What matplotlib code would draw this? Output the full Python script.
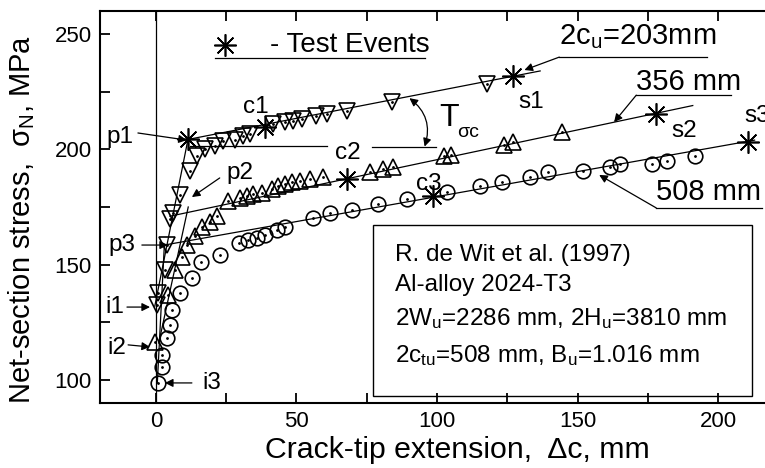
import matplotlib
matplotlib.use("Agg")
import matplotlib.pyplot as plt
from matplotlib.patches import Rectangle

plt.rcParams['font.family'] = ['Liberation Sans', 'DejaVu Sans']
plt.rcParams['mathtext.fontset'] = 'custom'
plt.rcParams['mathtext.rm'] = 'Liberation Sans'
plt.rcParams['mathtext.it'] = 'Liberation Sans:italic'

# 2c_u = 203 mm (down triangles)
dc_203 = [0.4, 0.7, 3.2, 3.9, 5.0, 6.0, 8.5, 12.0, 14.6, 17.4, 21.0, 24.0, 28.0, 31.0,
          33.5, 41.6, 46.0, 48.8, 52.0, 57.0, 61.0, 68.0, 84.0, 117.8]
sn_203 = [132.6, 137.8, 147.8, 158.7, 169.6, 172.6, 180.4, 190.4, 197.0, 200.0, 201.3, 203.5, 204.0, 205.6,
          206.5, 210.9, 211.7, 212.3, 213.0, 214.3, 215.2, 216.5, 220.4, 228.3]

# 2c_u = 356 mm (up triangles)
dc_356 = [-0.4, 4.3, 6.8, 9.2, 11.0, 13.9, 16.4, 19.2, 21.7, 25.6, 30.0, 32.4, 34.5, 37.7,
          41.3, 43.4, 45.9, 48.4, 51.2, 54.8, 59.4, 76.0, 80.8, 84.3, 102.5, 105.0, 124.0, 127.0, 144.5]
sn_356 = [116.5, 137.0, 147.7, 153.3, 158.5, 162.5, 166.3, 168.7, 170.9, 177.5, 179.0, 179.8, 180.6, 181.0,
          182.6, 183.9, 184.8, 185.7, 186.2, 187.0, 188.0, 190.0, 191.3, 192.4, 197.0, 197.6, 202.0, 203.0, 207.4]

# 2c_u = 508 mm (circles)
dc_508 = [0.7, 2.1, 2.3, 3.9, 5.0, 5.7, 8.5, 12.8, 16.2, 22.8, 29.5, 32.7, 35.9, 38.8, 43.0, 45.9,
          55.9, 61.9, 69.8, 79.0, 89.3, 103.6, 115.3, 123.0, 133.0, 139.5, 152.0, 161.6, 165.0,
          176.5, 181.9, 191.8]
sn_508 = [98.7, 105.6, 110.9, 118.3, 123.9, 130.4, 137.8, 144.3, 151.3, 154.0, 159.6, 160.5, 161.7, 163.0,
          165.2, 166.5, 170.4, 172.6, 173.9, 176.1, 178.3, 181.3, 183.9, 186.0, 187.8, 190.0, 190.4,
          192.2, 193.5, 193.5, 194.8, 197.0]

# test events (p1, c1, s1, c2, s2, c3, s3)
ev_dc = [11.4, 38.8, 127.0, 68.0, 178.0, 98.6, 210.7]
ev_sn = [204.3, 209.6, 231.7, 187.0, 215.2, 179.6, 203.0]

# straight fits: initial (i -> p) and stable growth (p -> s)
fit1_dc, fit1_sn = [-0.4, 11.4, 136.7], [132.0, 204.3, 234.0]
fit2a_dc, fit2a_sn = [1.0, 11.5], [116.0, 175.0]
fit2_dc, fit2_sn = [5.0, 191.0], [171.0, 219.0]
fit3a_dc, fit3a_sn = [0.5, 3.0], [98.7, 158.5]
fit3_dc, fit3_sn = [3.0, 213.0], [158.5, 204.0]

fig = plt.figure(figsize=(7.65, 4.68), dpi=100)
ax = fig.add_axes([0.1307, 0.1389, 0.8693, 0.8376])
ax.set_xlim(-19.9, 216.7)
ax.set_ylim(90.0, 260.0)

lw = 0.9
ax.axvline(0, color='black', lw=lw)
for xs, ys in [(fit1_dc, fit1_sn), (fit2a_dc, fit2a_sn), (fit2_dc, fit2_sn),
               (fit3a_dc, fit3a_sn), (fit3_dc, fit3_sn)]:
    ax.plot(xs, ys, color='black', lw=lw)

mk = dict(ls='none', mec='black', mfc='none', mew=1.2)
ax.plot(dc_203, sn_203, marker='v', ms=12, **mk)
ax.plot(dc_356, sn_356, marker='^', ms=12, **mk)
ax.plot(dc_508, sn_508, marker='o', ms=10.5, **mk)
for xs, ys in [(dc_203, sn_203), (dc_356, sn_356), (dc_508, sn_508)]:
    ax.plot(xs, ys, ls='none', marker='.', ms=2, color='black')
ax.plot(ev_dc, ev_sn, ls='none', marker=(8, 2, 0), ms=16, mec='black', mew=1.2)

# axes styling
ax.spines['right'].set_visible(False)
for s in ['left', 'top', 'bottom']:
    ax.spines[s].set_linewidth(1.5)
ax.set_xticks([0, 50, 100, 150, 200])
ax.set_xticks([25, 75, 125, 175], minor=True)
ax.set_yticks([100, 150, 200, 250])
ax.set_yticks([125, 175, 225], minor=True)
ax.tick_params(which='both', direction='in', length=7, width=1.3, top=True,
               labelsize=16, pad=6)
ax.set_xlabel('Crack-tip extension,  Δc, mm', fontsize=21.8)
ax.xaxis.set_label_coords(0.537, -0.085)
ax.set_ylabel(r'Net-section stress,  $\mathrm{σ_N}$, MPa', fontsize=21)
ax.yaxis.set_label_coords(-0.094, 0.469)

fs = 17.5
# legend-like note
ax.plot([24.5], [245.2], ls='none', marker=(8, 2, 0), ms=16, mec='black', mew=1.2)
ax.text(40.5, 245.2, '- Test Events', fontsize=20, va='center', ha='left')
ax.plot([21, 95.9], [239.6, 239.6], color='black', lw=lw)

# event labels
for txt, x, y in [('c1', 35.5, 218.3), ('c2', 68.2, 198.4), ('c3', 97.0, 185.0),
                  ('s1', 133.6, 220.5), ('s2', 188.0, 208.0), ('s3', 214.0, 214.4),
                  ('p1', -12.8, 205.3), ('p2', 29.8, 189.7), ('p3', -12.1, 158.5),
                  ('i1', -14.6, 131.6), ('i2', -13.9, 113.9), ('i3', 19.9, 98.7)]:
    ax.text(x, y, txt, fontsize=fs, ha='center', va='center')

arr = dict(arrowstyle='-|>', color='black', lw=0.9, mutation_scale=12, shrinkA=0, shrinkB=0)
for (x0, y0), (x1, y1) in [((-6.4, 207.1), (11.0, 204.0)), ((22.7, 187.6), (12.8, 179.3)),
                           ((-5.0, 158.5), (4.3, 158.5)), ((-10.3, 131.6), (-2.1, 131.6)),
                           ((-9.9, 115.2), (-2.1, 114.3)), ((12.8, 98.7), (3.2, 98.7))]:
    ax.annotate('', xy=(x1, y1), xytext=(x0, y0), arrowprops=arr)

# specimen size labels
ax.text(143.5, 249.1, r'2$\mathrm{c_u}$=203mm', fontsize=21, ha='left', va='center')
ax.plot([143.5, 196.0], [240.0, 240.0], color='black', lw=lw)
ax.annotate('', xy=(131.1, 234.4), xytext=(143.5, 240.0), arrowprops=arr)
ax.text(170.9, 229.0, '356 mm', fontsize=21, ha='left', va='center')
ax.plot([170.9, 204.6], [223.5, 223.5], color='black', lw=lw)
ax.annotate('', xy=(163.0, 211.8), xytext=(170.9, 223.5), arrowprops=arr)
ax.text(178.0, 181.5, '508 mm', fontsize=21, ha='left', va='center', clip_on=False)
ax.plot([178.0, 215.6], [174.6, 174.6], color='black', lw=lw)
ax.annotate('', xy=(157.7, 188.9), xytext=(178.0, 174.6), arrowprops=arr)

# slope angle T_sigma_c
ax.plot([12.0, 60.7], [201.5, 201.5], color='black', lw=lw)
ax.plot([76.7, 99.8], [201.2, 201.2], color='black', lw=lw)
ax.annotate('', xy=(95.6, 201.2), xytext=(90.2, 222.2),
            arrowprops=dict(arrowstyle='<|-|>', color='black', lw=0.9, mutation_scale=12,
                            shrinkA=0, shrinkB=0, connectionstyle='arc3,rad=-0.35'))
ax.text(100.9, 213.6, 'T', fontsize=23, ha='left', va='center')
ax.text(107.0, 207.3, 'σc', fontsize=14, ha='left', va='center')

# info box
ax.add_patch(Rectangle((77.1, 93.1), 135.0, 74.1, fill=False, ec='black', lw=1.0))
bfs = 17.5
ax.text(84.9, 154.2, 'R. de Wit et al. (1997)', fontsize=bfs, va='center')
ax.text(84.9, 141.2, 'Al-alloy 2024-T3', fontsize=bfs, va='center')
ax.text(84.9, 126.5, r'2$\mathrm{W_u}$=2286 mm, 2$\mathrm{H_u}$=3810 mm', fontsize=bfs, va='center')
ax.text(84.9, 110.5, r'2$\mathrm{c_{tu}}$=508 mm, $\mathrm{B_u}$=1.016 mm', fontsize=bfs, va='center')

fig.savefig('out.png', dpi=100)
